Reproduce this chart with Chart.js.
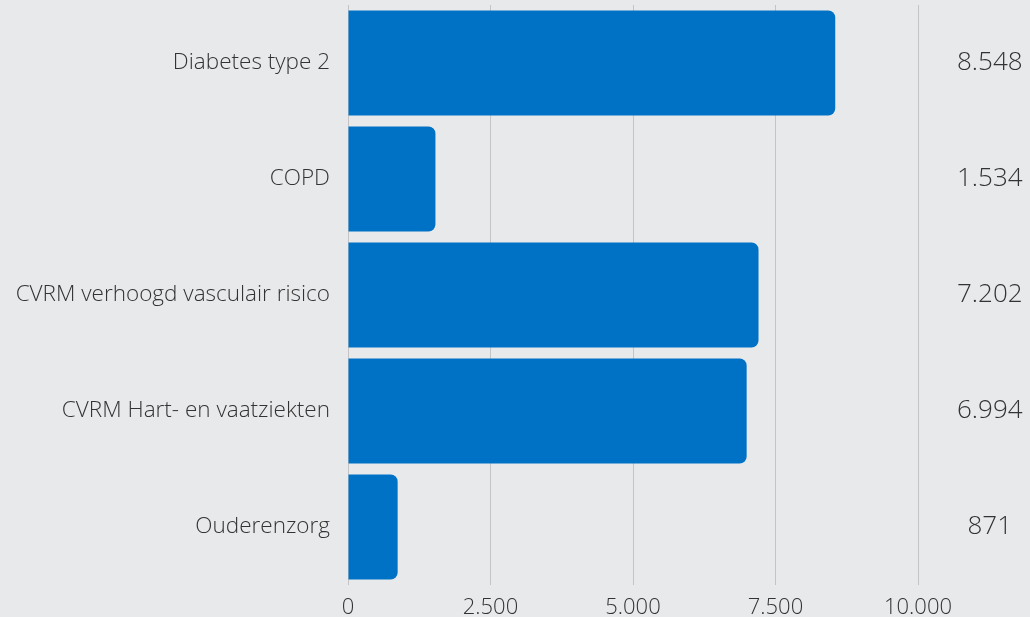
<!DOCTYPE html>
<html>
<head>
<meta charset="utf-8">
<script src="https://cdn.jsdelivr.net/npm/chart.js@4/dist/chart.umd.min.js"></script>
<style>
  html, body { margin: 0; padding: 0; background: #e8e9eb; overflow: hidden; }
  #wrap { width: 1030px; height: 617px; }
</style>
</head>
<body>
<div id="wrap"><canvas id="chart" width="1030" height="617"></canvas></div>
<script>
// data
const categories = ['Diabetes type 2', 'COPD', 'CVRM verhoogd vasculair risico', 'CVRM Hart- en vaatziekten', 'Ouderenzorg'];
const values     = [8548, 1534, 7202, 6994, 871];
const xTicks     = [0, 2500, 5000, 7500, 10000];

// 8548 -> "8.548"
function fmt(n) {
  return String(n).replace(/\B(?=(\d{3})+(?!\d))/g, '.');
}

const textColor = '#333333';
const font = 'Open Sans';

// keep the category axes from pushing the plot area in
function fitSide(width) {
  return s => { s.width = width; s.paddingTop = 0; s.paddingBottom = 0; };
}

new Chart(document.getElementById('chart'), {
  type: 'bar',
  data: {
    labels: categories,
    datasets: [{
      data: values,
      backgroundColor: '#0072c6',
      borderRadius: 7,
      borderSkipped: 'start',
      barPercentage: 0.905,
      categoryPercentage: 1,
      yAxisID: 'y',
    }],
  },
  options: {
    indexAxis: 'y',
    responsive: false,
    animation: false,
    layout: { padding: { top: 5, right: 0, bottom: 0, left: 0 } },
    plugins: { legend: { display: false }, tooltip: { enabled: false } },
    scales: {
      x: {
        min: 0, max: 10000,
        afterBuildTicks: s => { s.ticks = xTicks.map(v => ({ value: v })); },
        afterFit: s => { s.height = 32; s.paddingLeft = 0; s.paddingRight = 0; },
        grid: { color: '#c4c4c4', lineWidth: 1, drawTicks: false },
        border: { display: false },
        ticks: {
          padding: 10,
          color: textColor,
          font: { family: font, size: 22, weight: 300 },
          callback: v => fmt(v),
        },
      },
      y: {
        position: 'left',
        afterFit: fitSide(348),
        grid: { display: false, drawTicks: false },
        border: { display: false },
        ticks: {
          padding: 18,
          color: textColor,
          font: { family: font, size: 22.5, weight: 300 },
        },
      },
      y2: {
        position: 'right',
        type: 'category',
        labels: categories,
        afterFit: fitSide(112),
        grid: { display: false, drawTicks: false },
        border: { display: false },
        ticks: {
          padding: 39,
          crossAlign: 'center',
          color: textColor,
          font: { family: font, size: 26, weight: 300 },
          callback: (v, i) => fmt(values[i]),
        },
      },
    },
  },
});
</script>
</body>
</html>
